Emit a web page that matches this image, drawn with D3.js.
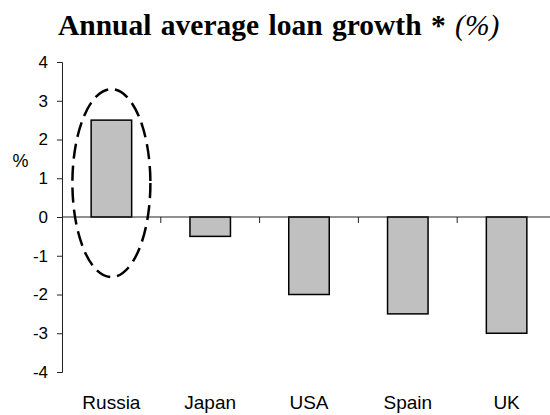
<!DOCTYPE html>
<html>
<head>
<meta charset="utf-8">
<script src="https://cdn.jsdelivr.net/npm/d3@7/dist/d3.min.js"></script>
<style>
  html, body { margin: 0; padding: 0; background: #fff; }
  svg { display: block; }
</style>
</head>
<body>
<svg id="chart" width="550" height="415"></svg>
<script>
// Loan growth by country, annual average (%)
const categories = ["Russia", "Japan", "USA", "Spain", "UK"];
const values = [2.5, -0.5, -2, -2.5, -3];
const yTicks = [4, 3, 2, 1, 0, -1, -2, -3, -4];
// Highlight ring around the first bar, in data units
const highlight = { category: "Russia", top: 3.3, bottom: -1.55 };

const svg = d3.select("#chart");

const x = d3.scaleBand().domain(categories).range([62, 556]);
const y = d3.scaleLinear().domain([-4, 4]).range([372, 62]);

const sans = "Arial, 'Liberation Sans', sans-serif";

// Title
const title = svg.append("text")
  .attr("x", 58).attr("y", 35)
  .attr("text-anchor", "start")
  .style("font-family", "'Liberation Serif', 'Times New Roman', serif")
  .style("font-size", "29.5px")
  .style("font-weight", "bold")
  .style("word-spacing", "2px")
  .attr("fill", "#000");
title.append("tspan").text("Annual average loan growth * ");
title.append("tspan").style("font-style", "italic").style("font-weight", "normal").text("(%)");

// Y axis (plain hyphen for negatives)
const yAxis = svg.append("g")
  .attr("transform", `translate(${x.range()[0]},0)`)
  .call(d3.axisLeft(y).tickValues(yTicks).tickSize(5).tickPadding(9)
    .tickFormat(d => String(d)));
yAxis.select(".domain").attr("stroke", "#222");
yAxis.selectAll(".tick line").attr("stroke", "#222");
yAxis.selectAll("text")
  .style("font-family", sans)
  .style("font-size", "17px")
  .attr("fill", "#000");

svg.append("text")
  .attr("x", 20.5).attr("y", 167)
  .attr("text-anchor", "middle")
  .style("font-family", sans)
  .style("font-size", "18px")
  .text("%");

// Bars
const barW = x.bandwidth() * 0.41;
svg.append("g").selectAll("rect")
  .data(categories.map((c, i) => ({ c, v: values[i] })))
  .join("rect")
  .attr("x", d => x(d.c) + (x.bandwidth() - barW) / 2)
  .attr("y", d => y(Math.max(0, d.v)))
  .attr("width", barW)
  .attr("height", d => Math.abs(y(d.v) - y(0)))
  .attr("fill", "#c0c0c0")
  .attr("stroke", "#000")
  .attr("stroke-width", 1.5);

// Zero line with category separators
const x0 = y(0);
svg.append("line")
  .attr("x1", x.range()[0]).attr("x2", x.range()[1])
  .attr("y1", x0).attr("y2", x0)
  .attr("stroke", "#222");
svg.append("g").selectAll("line")
  .data(categories.slice(1))
  .join("line")
  .attr("x1", d => x(d)).attr("x2", d => x(d))
  .attr("y1", x0).attr("y2", x0 + 6)
  .attr("stroke", "#222");

// Category labels along the bottom
svg.append("g").selectAll("text")
  .data(categories)
  .join("text")
  .attr("x", d => x(d) + x.bandwidth() / 2)
  .attr("y", 409)
  .attr("text-anchor", "middle")
  .style("font-family", sans)
  .style("font-size", "19px")
  .text(d => d);

// Dashed ellipse highlight
const cx = x(highlight.category) + x.bandwidth() / 2;
svg.append("ellipse")
  .attr("cx", cx)
  .attr("cy", (y(highlight.top) + y(highlight.bottom)) / 2)
  .attr("rx", 39)
  .attr("ry", (y(highlight.bottom) - y(highlight.top)) / 2)
  .attr("fill", "none")
  .attr("stroke", "#000")
  .attr("stroke-width", 2.5)
  .attr("stroke-dasharray", "15,7");
</script>
</body>
</html>
